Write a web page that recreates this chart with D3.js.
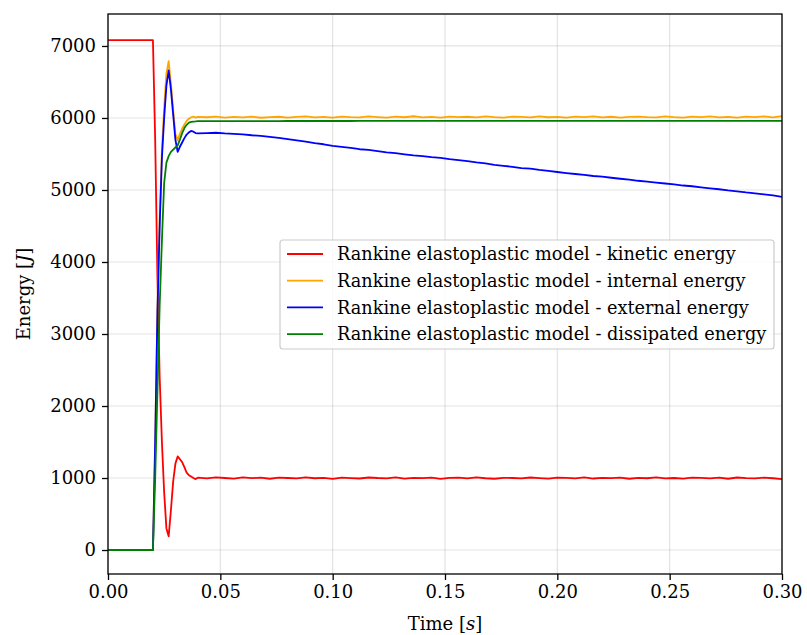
<!DOCTYPE html>
<html>
<head>
<meta charset="utf-8">
<script src="https://cdn.jsdelivr.net/npm/d3@7"></script>
<style>
  html, body { margin: 0; padding: 0; background: #fff; }
  svg { display: block; }
  text { font-family: "DejaVu Serif", serif; fill: #000; }
</style>
</head>
<body>
<div id="chart"></div>
<script>
// ---- data ----
const time = [
  0.000, 0.020, 0.021, 0.022, 0.023, 0.024, 0.025, 0.026, 0.027, 0.028, 0.029,
  0.030, 0.031, 0.032, 0.033, 0.034, 0.035, 0.036, 0.037, 0.038, 0.039, 0.040,
  0.044, 0.048, 0.052, 0.056, 0.060, 0.064, 0.068, 0.072, 0.076, 0.080,
  0.084, 0.088, 0.092, 0.096, 0.100, 0.104, 0.108, 0.112, 0.116, 0.120,
  0.124, 0.128, 0.132, 0.136, 0.140, 0.144, 0.148, 0.152, 0.156, 0.160,
  0.164, 0.168, 0.172, 0.176, 0.180, 0.184, 0.188, 0.192, 0.196, 0.200,
  0.204, 0.208, 0.212, 0.216, 0.220, 0.224, 0.228, 0.232, 0.236, 0.240,
  0.244, 0.248, 0.252, 0.256, 0.260, 0.264, 0.268, 0.272, 0.276, 0.280,
  0.284, 0.288, 0.292, 0.296, 0.300
];
const kinetic = [
  7080, 7080, 5700, 3800, 2400, 1500, 800, 300, 190, 550, 950,
  1200, 1300, 1260, 1220, 1150, 1075, 1040, 1020, 1000, 985, 1005,
  995, 1008, 1000, 992, 1010, 998, 1004, 990, 1006, 1000,
  994, 1009, 997, 1003, 988, 1005, 999, 993, 1007, 1000,
  996, 1010, 992, 1002, 998, 1006, 989, 1001, 1004, 995,
  1008, 997, 990, 1003, 1000, 994, 1007, 999, 991, 1005,
  1002, 996, 1009, 993, 1001, 998, 1006, 990, 1003, 997,
  1008, 995, 1000, 992, 1006, 1001, 996, 1004, 990, 1007,
  999, 994, 1005, 997, 985
];
const internal = [
  0, 0, 1500, 3350, 4600, 5550, 6150, 6620, 6790, 6480, 6120,
  5780, 5690, 5780, 5850, 5910, 5960, 5990, 6010, 6020, 6005, 6015,
  6010, 6018, 6005, 6015, 6008, 6020, 6003, 6012, 6017, 6006,
  6014, 6022, 6009, 6016, 6004, 6019, 6011, 6007, 6021, 6013,
  6005, 6018, 6010, 6024, 6008, 6015, 6006, 6020, 6012, 6017,
  6009, 6023, 6011, 6005, 6019, 6014, 6008, 6021, 6010, 6016,
  6006, 6019, 6013, 6022, 6009, 6017, 6004, 6015, 6020, 6011,
  6008, 6023, 6012, 6006, 6018, 6013, 6021, 6009, 6016, 6005,
  6019, 6011, 6022, 6008, 6025
];
const external = [
  0, 0, 1500, 3300, 4500, 5450, 6000, 6450, 6660, 6400, 6050,
  5700, 5530, 5600, 5660, 5720, 5770, 5800, 5820, 5810, 5790, 5785,
  5790, 5795, 5785, 5778, 5772, 5760, 5752, 5738, 5725, 5706,
  5688, 5672, 5650, 5635, 5612, 5598, 5585, 5566, 5556, 5540,
  5522, 5512, 5495, 5480, 5470, 5455, 5445, 5428, 5415, 5400,
  5382, 5370, 5350, 5336, 5322, 5305, 5296, 5278, 5264, 5250,
  5235, 5222, 5210, 5194, 5185, 5170, 5156, 5144, 5128, 5116,
  5102, 5090, 5078, 5062, 5052, 5036, 5022, 5010, 4994, 4982,
  4966, 4954, 4940, 4926, 4905
];
const dissipated = [
  0, 0, 1000, 2200, 3400, 4300, 5100, 5380, 5470, 5530, 5560,
  5590, 5620, 5700, 5790, 5860, 5905, 5935, 5945, 5950, 5952, 5955,
  5955, 5956, 5956, 5956, 5957, 5957, 5957, 5957, 5957, 5958,
  5958, 5958, 5958, 5958, 5958, 5958, 5958, 5959, 5959, 5959,
  5959, 5959, 5959, 5959, 5959, 5959, 5959, 5960, 5960, 5960,
  5960, 5960, 5960, 5960, 5960, 5960, 5960, 5960, 5960, 5960,
  5960, 5960, 5960, 5960, 5960, 5960, 5960, 5960, 5960, 5960,
  5960, 5960, 5960, 5960, 5960, 5960, 5960, 5960, 5960, 5960,
  5960, 5960, 5960, 5960, 5960
];
const seriesNames = [
  "Rankine elastoplastic model - kinetic energy",
  "Rankine elastoplastic model - internal energy",
  "Rankine elastoplastic model - external energy",
  "Rankine elastoplastic model - dissipated energy"
];
const seriesColors = ["#ff0000", "#ffa500", "#0000ff", "#008000"];
const xTicks = [0.00, 0.05, 0.10, 0.15, 0.20, 0.25, 0.30];
const yTicks = [0, 1000, 2000, 3000, 4000, 5000, 6000, 7000];

// ---- layout ----
const W = 807, H = 635;
const mLeft = 108, mRight = 782, mTop = 14, mBottom = 574;

const svg = d3.select("#chart").append("svg")
  .attr("width", W).attr("height", H);

const x = d3.scaleLinear().domain([0, 0.30]).range([mLeft, mRight]);
const y = d3.scaleLinear().domain([-333, 7444]).range([mBottom, mTop]);

// grid
const grid = svg.append("g");
grid.selectAll("line.gx").data(xTicks).enter().append("line")
  .attr("x1", d => x(d)).attr("x2", d => x(d))
  .attr("y1", mTop).attr("y2", mBottom)
  .attr("stroke", "#b0b0b0").attr("stroke-opacity", 0.35).attr("stroke-width", 1.2);
grid.selectAll("line.gy").data(yTicks).enter().append("line")
  .attr("x1", mLeft).attr("x2", mRight)
  .attr("y1", d => y(d)).attr("y2", d => y(d))
  .attr("stroke", "#b0b0b0").attr("stroke-opacity", 0.35).attr("stroke-width", 1.2);

// clip
svg.append("clipPath").attr("id", "clip").append("rect")
  .attr("x", mLeft).attr("y", mTop).attr("width", mRight - mLeft).attr("height", mBottom - mTop);

const allSeries = [kinetic, internal, external, dissipated];
const line = d3.line().x((d, i) => x(time[i])).y(d => y(d));
const lines = svg.append("g").attr("clip-path", "url(#clip)");
allSeries.forEach((s, k) => {
  lines.append("path").datum(s)
    .attr("d", line)
    .attr("fill", "none")
    .attr("stroke", seriesColors[k])
    .attr("stroke-width", 1.8)
    .attr("stroke-linejoin", "round");
});

// axes
const fs = 18;
const xAxis = d3.axisBottom(x).tickValues(xTicks).tickFormat(d3.format(".2f")).tickSize(6).tickPadding(5);
const yAxis = d3.axisLeft(y).tickValues(yTicks).tickFormat(d3.format("d")).tickSize(6).tickPadding(6);

const gx = svg.append("g").attr("transform", `translate(0,${mBottom})`).call(xAxis);
const gy = svg.append("g").attr("transform", `translate(${mLeft},0)`).call(yAxis);
[gx, gy].forEach(g => {
  g.select(".domain").remove();
  g.selectAll(".tick line").attr("stroke", "#000").attr("stroke-width", 1.3);
  g.selectAll(".tick text").attr("font-size", fs).attr("font-family", "DejaVu Serif").attr("fill", "#000");
});

// frame
svg.append("rect")
  .attr("x", mLeft).attr("y", mTop).attr("width", mRight - mLeft).attr("height", mBottom - mTop)
  .attr("fill", "none").attr("stroke", "#000").attr("stroke-width", 1.3);

// axis labels
const xl = svg.append("text")
  .attr("x", (mLeft + mRight) / 2).attr("y", 630)
  .attr("text-anchor", "middle").attr("font-size", fs);
xl.append("tspan").text("Time [");
xl.append("tspan").attr("font-style", "italic").text("s");
xl.append("tspan").text("]");

const yl = svg.append("text")
  .attr("transform", `translate(30,${(mTop + mBottom) / 2}) rotate(-90)`)
  .attr("text-anchor", "middle").attr("font-size", fs);
yl.append("tspan").text("Energy [");
yl.append("tspan").attr("font-style", "italic").text("J");
yl.append("tspan").text("]");

// legend
const lg = svg.append("g");
lg.append("rect")
  .attr("x", 280).attr("y", 240).attr("width", 494).attr("height", 109)
  .attr("rx", 3).attr("fill", "#fff").attr("fill-opacity", 0.8)
  .attr("stroke", "#cccccc").attr("stroke-width", 1.2);
seriesNames.forEach((name, k) => {
  const cy = 254 + k * 26.7;
  lg.append("line").attr("x1", 287).attr("x2", 323).attr("y1", cy).attr("y2", cy)
    .attr("stroke", seriesColors[k]).attr("stroke-width", 1.8);
  lg.append("text").attr("x", 337).attr("y", cy).attr("dy", "0.36em")
    .attr("font-size", 17.7).text(name);
});
</script>
</body>
</html>
